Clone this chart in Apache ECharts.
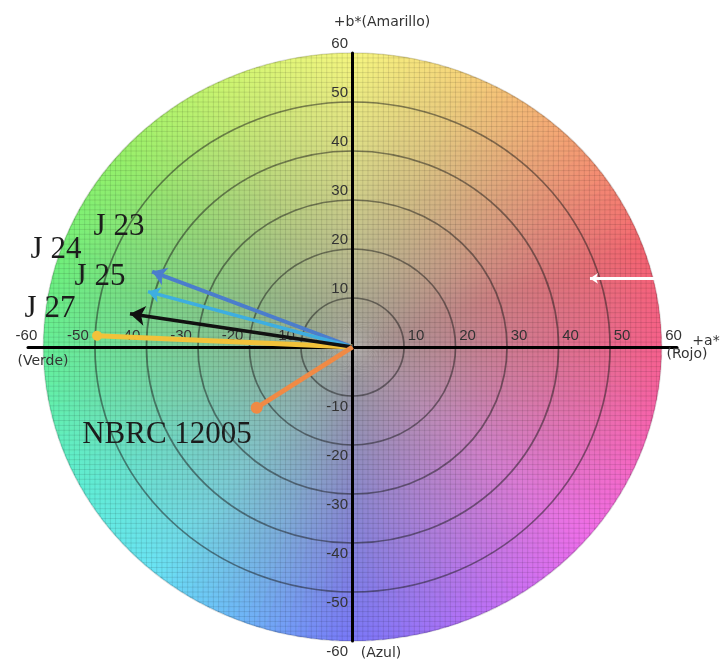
<!DOCTYPE html>
<html><head><meta charset="utf-8">
<script src="https://cdn.jsdelivr.net/npm/echarts@6.0.0/dist/echarts.min.js"></script>
<style>html,body{margin:0;padding:0;background:#fff}#c{width:722px;height:661px}</style>
</head><body><div id="c"></div>
<script>
// ---- data ----
const xTicks = [-60, -50, -40, -30, -20, -10, 10, 20, 30, 40, 50, 60];
const yTicks = [-60, -50, -40, -30, -20, -10, 10, 20, 30, 40, 50, 60];
const ringRadii = [10, 20, 30, 40, 50];
const diskRadius = 60;
const sampleNames = ['J 23', 'J 24', 'J 25', 'J 27', 'NBRC 12005'];
const aStar = [-38.9, -49.6, -39.7, -43.2, -18.6];
const bStar = [15.4, 2.3, 11.3, 6.8, -12.4];
const refArrowFrom = [59.1, 14.0];
const refArrowTo = [46.1, 14.0];

// ---- styles ----
const sampleStyles = [
  {color: '#4b7dcc', width: 4, symbol: 'arrow', size: 14},
  {color: '#f2c23a', width: 5, symbol: 'circle', size: 10},
  {color: '#3eaee0', width: 3.5, symbol: 'arrow', size: 12},
  {color: '#111111', width: 3.5, symbol: 'arrow', size: 15},
  {color: '#f08a45', width: 5, symbol: 'circle', size: 12}
];
const hueStops = [
  [0, [246, 96, 140]], [20, [244, 100, 112]], [45, [245, 160, 115]], [70, [246, 212, 122]],
  [90, [246, 246, 128]], [115, [205, 246, 112]], [140, [150, 242, 105]], [165, [110, 240, 125]],
  [185, [100, 240, 160]], [210, [95, 238, 215]], [230, [105, 228, 245]], [250, [110, 180, 248]],
  [270, [120, 120, 248]], [295, [185, 112, 246]], [320, [240, 110, 235]], [345, [246, 100, 175]],
  [360, [246, 96, 140]]
];
const centerGray = [158, 156, 150];
function rgb(c) { return 'rgb(' + c.map(Math.round).join(',') + ')'; }
function mix(a, b, t) { return a.map((v, j) => v + (b[j] - v) * t); }
function edgeColor(deg) {
  for (let i = 0; i < hueStops.length - 1; i++) {
    const [a0, c0] = hueStops[i], [a1, c1] = hueStops[i + 1];
    if (deg >= a0 && deg <= a1) return mix(c0, c1, (deg - a0) / (a1 - a0));
  }
  return hueStops[0][1];
}

function renderDisk(params, api) {
  const c = api.coord([0, 0]);
  const rx = api.coord([diskRadius, 0])[0] - c[0];
  const ry = c[1] - api.coord([0, diskRadius])[1];
  const N = 180, step = 360 / N, d2r = Math.PI / 180;
  const sectors = [];
  for (let i = 0; i < N; i++) {
    const t1 = i * step, t2 = (i + 1) * step;
    const col = edgeColor((t1 + t2) / 2);
    sectors.push({
      type: 'sector',
      shape: {cx: 0, cy: 0, r0: 0, r: rx, startAngle: -(t2 + 0.5) * d2r, endAngle: -(t1 - 0.5) * d2r, clockwise: true},
      style: {fill: new echarts.graphic.RadialGradient(0, 0, rx, [
        {offset: 0, color: rgb(centerGray)},
        {offset: 0.5, color: rgb(mix(centerGray, col, 0.55))},
        {offset: 1, color: rgb(col)}], true)}
    });
  }
  const rings = ringRadii.concat([diskRadius]).map(r => ({
    type: 'circle',
    shape: {cx: 0, cy: 0, r: rx * r / diskRadius},
    style: {fill: null, stroke: r === diskRadius ? 'rgba(0,0,0,0.14)' : 'rgba(25,25,25,0.5)', lineWidth: 1.7, strokeNoScale: true}
  }));
  const children = [{type: 'group', x: c[0], y: c[1], scaleY: ry / rx, children: sectors}];
  for (let k = -59; k <= 59; k++) {
    const h = Math.sqrt(diskRadius * diskRadius - k * k);
    const p1 = api.coord([k, -h]), p2 = api.coord([k, h]);
    const q1 = api.coord([-h, k]), q2 = api.coord([h, k]);
    children.push({type: 'line', shape: {x1: p1[0], y1: p1[1], x2: p2[0], y2: p2[1]}, style: {stroke: 'rgba(0,0,0,0.1)', lineWidth: 1}});
    children.push({type: 'line', shape: {x1: q1[0], y1: q1[1], x2: q2[0], y2: q2[1]}, style: {stroke: 'rgba(0,0,0,0.1)', lineWidth: 1}});
  }
  children.push({type: 'group', x: c[0], y: c[1], scaleY: ry / rx, children: rings});
  return {type: 'group', children};
}

const tickFont = '15px "Liberation Sans", Arial, sans-serif';
const series = [
  {type: 'custom', coordinateSystem: 'cartesian2d', z: 1, silent: true, clip: false,
   data: [[0, 0]], encode: {x: 0, y: 1}, renderItem: renderDisk},
  {type: 'custom', coordinateSystem: 'cartesian2d', z: 4, silent: true, clip: false,
   data: xTicks.map(v => [v, 0]), encode: {x: 0, y: 1},
   renderItem: (params, api) => {
     const v = api.value(0), p = api.coord([v, 0]);
     return {type: 'text', x: p[0] + (v > 0 ? 12 : -17), y: p[1] - 11,
       style: {text: String(v), align: 'center', verticalAlign: 'middle', fill: '#333', font: tickFont}};
   }},
  {type: 'custom', coordinateSystem: 'cartesian2d', z: 4, silent: true, clip: false,
   data: yTicks.map(v => [0, v]), encode: {x: 0, y: 1},
   renderItem: (params, api) => {
     const v = api.value(1), p = api.coord([0, v]);
     return {type: 'text', x: p[0] - 4.5, y: p[1] + (v > 0 ? -9.5 : 11.3),
       style: {text: String(v), align: 'right', verticalAlign: 'middle', fill: '#333', font: tickFont}};
   }}
];
sampleNames.forEach((name, i) => {
  const s = sampleStyles[i];
  series.push({
    type: 'lines', name, coordinateSystem: 'cartesian2d', z: 5, silent: true,
    symbol: ['none', s.symbol], symbolSize: [0, s.size],
    lineStyle: {color: s.color, width: s.width, opacity: 1, curveness: 0},
    itemStyle: {color: s.color},
    data: [{coords: [[0, 0], [aStar[i], bStar[i]]]}]
  });
});
series.push({
  type: 'lines', name: 'ref', coordinateSystem: 'cartesian2d', z: 5, silent: true,
  symbol: ['none', 'arrow'], symbolSize: [0, 8],
  lineStyle: {color: '#ffffff', width: 3, opacity: 1},
  data: [{coords: [refArrowFrom, refArrowTo]}]
});

const titleFont = '14px "DejaVu Sans", sans-serif';
const labFont = '31px "Liberation Serif", "Times New Roman", serif';
function txt(text, x, y, font, fill, align) {
  return {type: 'text', x, y, z: 10, silent: true,
    style: {text, font, fill, align: align || 'center', verticalAlign: 'middle'}};
}
const graphics = [
  txt('+b*(Amarillo)', 382, 22, titleFont, '#333'),
  txt('(Verde)', 43, 361, titleFont, '#333'),
  txt('+a*', 706, 341, titleFont, '#333'),
  txt('(Rojo)', 687, 354, titleFont, '#333'),
  txt('(Azul)', 381, 653, titleFont, '#333'),
  txt('J 23', 119, 227, labFont, '#1c1c1c'),
  txt('J 24', 56, 250, labFont, '#1c1c1c'),
  txt('J 25', 100, 277, labFont, '#1c1c1c'),
  txt('J 27', 50, 309, labFont, '#1c1c1c'),
  txt('NBRC 12005', 167, 435, labFont, '#1c1c1c')
];

const chart = echarts.init(document.getElementById('c'), null, {renderer: 'canvas'});
chart.setOption({
  animation: false,
  backgroundColor: '#ffffff',
  grid: {left: 28, right: 45, top: 53, bottom: 20, containLabel: false, outerBoundsMode: 'none'},
  xAxis: {type: 'value', min: -63, max: 63, z: 3,
    axisLine: {show: true, onZero: true, lineStyle: {color: '#000', width: 3}},
    axisTick: {show: false}, axisLabel: {show: false}, splitLine: {show: false}},
  yAxis: {type: 'value', min: -60, max: 60, z: 3,
    axisLine: {show: true, onZero: true, lineStyle: {color: '#000', width: 3}},
    axisTick: {show: false}, axisLabel: {show: false}, splitLine: {show: false}},
  series,
  graphic: graphics
});
</script></body></html>
